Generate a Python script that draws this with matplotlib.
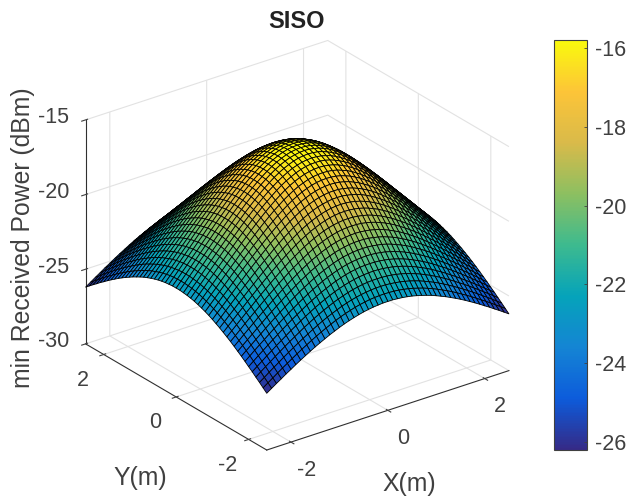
import numpy as np
import matplotlib
matplotlib.use("Agg")
import matplotlib.pyplot as plt
from matplotlib.colors import LinearSegmentedColormap

plt.rcParams['font.family'] = ['Liberation Sans', 'DejaVu Sans']
plt.rcParams['axes.unicode_minus'] = False

# peak of the surface
peak = -15.8
# power below the peak (dB), one quadrant, row/col 0 = room centre, last = wall, 0.1 m apart
quadrant_drop = np.array([
    [0.00,0.02,0.07,0.16,0.29,0.45,0.63,0.85,1.09,1.35,1.64,1.94,2.26,2.59,2.93,3.28,3.63,3.99,4.36,4.72,5.09,5.45,5.82,6.19,6.55,6.91],
    [0.02,0.04,0.09,0.18,0.31,0.46,0.65,0.87,1.11,1.37,1.65,1.95,2.27,2.60,2.94,3.29,3.64,4.00,4.37,4.73,5.10,5.46,5.83,6.19,6.56,6.91],
    [0.07,0.09,0.15,0.23,0.36,0.51,0.70,0.91,1.15,1.41,1.70,2.00,2.31,2.64,2.98,3.32,3.68,4.03,4.40,4.76,5.12,5.49,5.85,6.22,6.58,6.94],
    [0.16,0.18,0.23,0.32,0.45,0.60,0.78,0.99,1.23,1.49,1.77,2.07,2.38,2.70,3.04,3.38,3.73,4.09,4.45,4.81,5.17,5.53,5.89,6.26,6.61,6.97],
    [0.29,0.31,0.36,0.45,0.56,0.72,0.90,1.11,1.34,1.59,1.87,2.16,2.47,2.79,3.12,3.46,3.81,4.16,4.51,4.87,5.23,5.59,5.95,6.31,6.67,7.02],
    [0.45,0.46,0.51,0.60,0.72,0.87,1.04,1.24,1.47,1.73,2.00,2.28,2.59,2.90,3.23,3.56,3.90,4.25,4.60,4.96,5.31,5.67,6.02,6.38,6.73,7.08],
    [0.63,0.65,0.70,0.78,0.90,1.04,1.21,1.41,1.64,1.88,2.15,2.43,2.73,3.04,3.36,3.69,4.02,4.37,4.71,5.06,5.41,5.76,6.11,6.46,6.81,7.16],
    [0.85,0.87,0.91,0.99,1.11,1.24,1.41,1.61,1.82,2.07,2.32,2.60,2.89,3.19,3.51,3.83,4.16,4.49,4.84,5.18,5.52,5.87,6.22,6.56,6.91,7.25],
    [1.09,1.11,1.15,1.23,1.34,1.47,1.64,1.82,2.04,2.27,2.52,2.79,3.07,3.37,3.68,3.99,4.32,4.64,4.98,5.31,5.65,5.99,6.33,6.67,7.01,7.35],
    [1.35,1.37,1.41,1.49,1.59,1.73,1.88,2.07,2.27,2.49,2.74,3.00,3.28,3.56,3.86,4.17,4.48,4.81,5.13,5.46,5.80,6.13,6.46,6.80,7.13,7.46],
    [1.64,1.65,1.70,1.77,1.87,2.00,2.15,2.32,2.52,2.74,2.98,3.23,3.50,3.77,4.07,4.37,4.67,4.98,5.30,5.63,5.95,6.28,6.61,6.94,7.26,7.59],
    [1.94,1.95,2.00,2.07,2.16,2.28,2.43,2.60,2.79,3.00,3.23,3.47,3.73,4.00,4.29,4.58,4.87,5.18,5.49,5.80,6.12,6.44,6.76,7.08,7.41,7.73],
    [2.26,2.27,2.31,2.38,2.47,2.59,2.73,2.89,3.07,3.28,3.50,3.73,3.98,4.24,4.51,4.80,5.09,5.38,5.69,5.99,6.30,6.61,6.93,7.24,7.56,7.87],
    [2.59,2.60,2.64,2.70,2.79,2.90,3.04,3.19,3.37,3.56,3.77,4.00,4.24,4.49,4.76,5.03,5.31,5.60,5.89,6.19,6.49,6.80,7.10,7.41,7.72,8.03],
    [2.93,2.94,2.98,3.04,3.12,3.23,3.36,3.51,3.68,3.86,4.07,4.29,4.51,4.76,5.01,5.28,5.55,5.83,6.11,6.40,6.70,6.99,7.29,7.59,7.89,8.19],
    [3.28,3.29,3.32,3.38,3.46,3.56,3.69,3.83,3.99,4.17,4.37,4.58,4.80,5.03,5.28,5.53,5.80,6.06,6.34,6.62,6.91,7.19,7.48,7.78,8.07,8.36],
    [3.63,3.64,3.68,3.73,3.81,3.90,4.02,4.16,4.32,4.48,4.67,4.87,5.09,5.31,5.55,5.80,6.05,6.31,6.58,6.85,7.12,7.41,7.69,7.97,8.26,8.54],
    [3.99,4.00,4.03,4.09,4.16,4.25,4.37,4.49,4.64,4.81,4.98,5.18,5.38,5.60,5.83,6.06,6.31,6.56,6.82,7.08,7.35,7.62,7.90,8.17,8.45,8.73],
    [4.36,4.37,4.40,4.45,4.51,4.60,4.71,4.84,4.98,5.13,5.30,5.49,5.69,5.89,6.11,6.34,6.58,6.82,7.07,7.32,7.58,7.85,8.11,8.38,8.65,8.92],
    [4.72,4.73,4.76,4.81,4.87,4.96,5.06,5.18,5.31,5.46,5.63,5.80,5.99,6.19,6.40,6.62,6.85,7.08,7.32,7.57,7.82,8.08,8.33,8.59,8.86,9.12],
    [5.09,5.10,5.12,5.17,5.23,5.31,5.41,5.52,5.65,5.80,5.95,6.12,6.30,6.49,6.70,6.91,7.12,7.35,7.58,7.82,8.06,8.31,8.56,8.81,9.07,9.33],
    [5.45,5.46,5.49,5.53,5.59,5.67,5.76,5.87,5.99,6.13,6.28,6.44,6.61,6.80,6.99,7.19,7.41,7.62,7.85,8.08,8.31,8.55,8.79,9.04,9.28,9.53],
    [5.82,5.83,5.85,5.89,5.95,6.02,6.11,6.22,6.33,6.46,6.61,6.76,6.93,7.10,7.29,7.48,7.69,7.90,8.11,8.33,8.56,8.79,9.03,9.26,9.50,9.75],
    [6.19,6.19,6.22,6.26,6.31,6.38,6.46,6.56,6.67,6.80,6.94,7.08,7.24,7.41,7.59,7.78,7.97,8.17,8.38,8.59,8.81,9.04,9.26,9.49,9.73,9.96],
    [6.55,6.56,6.58,6.61,6.67,6.73,6.81,6.91,7.01,7.13,7.26,7.41,7.56,7.72,7.89,8.07,8.26,8.45,8.65,8.86,9.07,9.28,9.50,9.73,9.95,10.18],
    [6.91,6.91,6.94,6.97,7.02,7.08,7.16,7.25,7.35,7.46,7.59,7.73,7.87,8.03,8.19,8.36,8.54,8.73,8.92,9.12,9.33,9.53,9.75,9.96,10.18,10.40],
])

x_step = 0.1
x_ticks = [-2, 0, 2]
y_ticks = [-2, 0, 2]
z_ticks = [-30, -25, -20, -15]
cbar_ticks = [-26, -24, -22, -20, -18, -16]

# room is symmetric about the centre, so mirror the quadrant out
half = np.hstack([quadrant_drop[:, :0:-1], quadrant_drop])
drop = np.vstack([half[:0:-1, :], half])
Z = peak - drop
n_side = Z.shape[0]
x = (np.arange(n_side) - (n_side - 1) / 2) * x_step
X, Y = np.meshgrid(x, x)

parula = LinearSegmentedColormap.from_list("parula", [
    (0.208, 0.166, 0.529), (0.05, 0.36, 0.86), (0.08, 0.52, 0.83),
    (0.02, 0.64, 0.73), (0.24, 0.73, 0.56), (0.55, 0.75, 0.38),
    (0.85, 0.73, 0.29), (0.99, 0.77, 0.22), (0.98, 0.98, 0.05)])

text_col = '#404040'
fig = plt.figure(figsize=(6.28, 4.99), dpi=100)
ax = fig.add_axes([0.0276, -0.005, 0.87, 1.0], projection='3d', proj_type='ortho')
ax.view_init(elev=26, azim=-126.8)
ax.set_box_aspect((1, 1, 0.824), zoom=0.963)

surf = ax.plot_surface(X, Y, Z, cmap=parula, vmin=Z.min(), vmax=Z.max(), rstride=1, cstride=1,
                       edgecolor='black', linewidth=0.6, shade=False, antialiased=True)
ax.set_xlim(-2.5, 2.5)
ax.set_ylim(-2.5, 2.5)
ax.set_zlim(-30, -15)
ax.set_xticks(x_ticks)
ax.set_yticks(y_ticks)
ax.set_zticks(z_ticks)
ax.tick_params(labelsize=15.5, colors=text_col)
ax.tick_params(axis='x', pad=8)
ax.tick_params(axis='y', pad=8)
ax.tick_params(axis='z', pad=6)
# tick labels sit higher against the axes than the default alignment
for t in ax.get_xticklabels() + ax.get_yticklabels() + ax.get_zticklabels():
    t.set_va('center')
for a in (ax.xaxis, ax.yaxis, ax.zaxis):
    a.set_pane_color((1, 1, 1, 0))
    a.pane.set_edgecolor((1, 1, 1, 0))
    a._axinfo['grid'].update(color='#e2e2e2', linewidth=0.8)
    a.line.set_color('#303030')
    a.line.set_linewidth(0.8)

fig.text(0.4715, 0.957, 'SISO', fontsize=17, fontweight='bold', ha='center', va='center', color='#222222')
fig.text(0.036, 0.523, 'min Received Power (dBm)', fontsize=17.8, rotation=90, ha='center', va='center', color=text_col)
fig.text(0.223, 0.042, 'Y(m)', fontsize=17.8, ha='center', va='center', color=text_col)
fig.text(0.651, 0.03, 'X(m)', fontsize=17.8, ha='center', va='center', color=text_col)

cax = fig.add_axes([554 / 628, 1 - 450 / 499, 33 / 628, 410 / 499])
cb = fig.colorbar(surf, cax=cax)
cb.set_ticks(cbar_ticks)
cb.ax.tick_params(labelsize=15.5, colors=text_col, direction='in', length=2, width=0.6, pad=6)
cb.outline.set_edgecolor('#404040')
cb.outline.set_linewidth(0.8)

fig.savefig('out.png', dpi=100)
